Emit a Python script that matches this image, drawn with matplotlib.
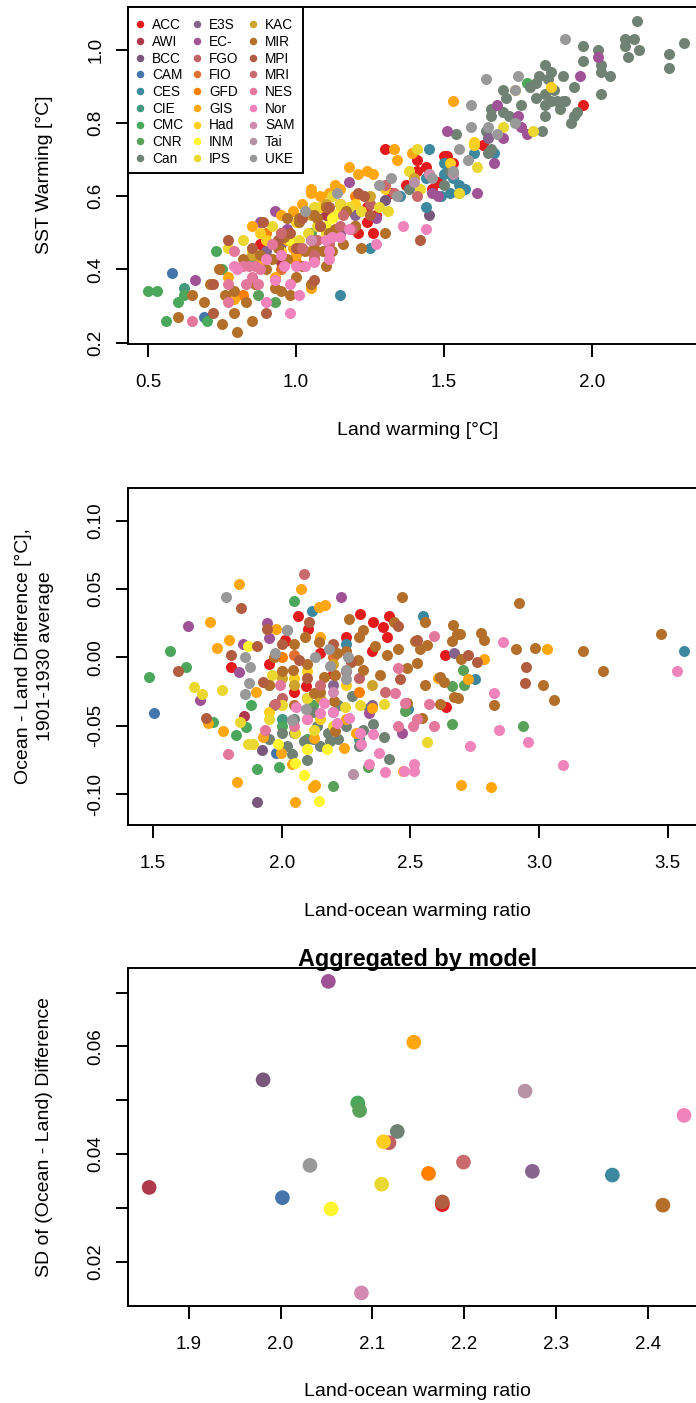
import numpy as np
import matplotlib.pyplot as plt
from matplotlib.colors import to_rgb
from matplotlib.lines import Line2D
from matplotlib.patches import Rectangle

plt.rcParams['font.family'] = ['Liberation Sans', 'DejaVu Sans']

# model codes (legend order)
models = ["ACC", "AWI", "BCC", "CAM", "CES", "CIE", "CMC", "CNR", "Can",
          "E3S", "EC-", "FGO", "FIO", "GFD", "GIS", "Had", "INM", "IPS",
          "KAC", "MIR", "MPI", "MRI", "NES", "Nor", "SAM", "Tai", "UKE"]

# panel 1: (land warming, SST warming) per model
warming = {
    "ACC": [(1.97, 0.85), (1.63, 0.74), (1.51, 0.71), (1.46, 0.62), (1.30, 0.73), (1.41, 0.70), (1.41, 0.67),
            (1.44, 0.68), (1.48, 0.64), (1.37, 0.63), (1.24, 0.57), (1.24, 0.53), (1.27, 0.55), (1.26, 0.50),
            (1.21, 0.50), (1.50, 0.71), (1.53, 0.69), (1.32, 0.61), (0.88, 0.47), (1.05, 0.48), (1.15, 0.58)],
    "AWI": [(1.10, 0.55), (0.95, 0.42), (1.20, 0.52)],
    "BCC": [(1.30, 0.59), (0.95, 0.47), (1.45, 0.55), (1.15, 0.50)],
    "CAM": [(0.58, 0.39), (0.69, 0.27)],
    "CES": [(1.45, 0.73), (1.51, 0.67), (1.53, 0.65), (1.57, 0.62), (1.60, 0.72), (1.67, 0.72), (1.52, 0.61),
            (1.50, 0.69), (1.44, 0.65), (1.50, 0.66), (1.49, 0.60), (1.55, 0.63), (1.44, 0.57), (1.25, 0.46),
            (1.35, 0.60), (1.15, 0.33)],
    "CIE": [(0.85, 0.42), (0.62, 0.35), (1.00, 0.47)],
    "CMC": [(0.50, 0.34), (0.53, 0.34), (0.60, 0.31), (0.56, 0.26), (0.70, 0.26), (0.62, 0.33), (0.73, 0.45),
            (1.78, 0.91)],
    "CNR": [(0.93, 0.31), (0.87, 0.33), (0.86, 0.44), (0.75, 0.40), (1.05, 0.50)],
    "Can": [(2.15, 1.08), (1.97, 1.01), (2.02, 1.00), (2.11, 1.03), (2.14, 1.03), (2.11, 1.01), (2.16, 1.00),
            (2.31, 1.02), (2.26, 0.99), (2.26, 0.95), (2.12, 0.98), (1.97, 0.97), (1.84, 0.96), (2.03, 0.96),
            (2.03, 0.94), (2.06, 0.93), (1.86, 0.94), (1.90, 0.93), (1.94, 0.90), (1.85, 0.92), (1.81, 0.91),
            (1.70, 0.89), (1.71, 0.87), (1.81, 0.87), (1.84, 0.88), (1.87, 0.89), (1.86, 0.86), (1.88, 0.86),
            (1.91, 0.86), (1.89, 0.84), (1.84, 0.85), (1.76, 0.85), (1.66, 0.84), (1.66, 0.82), (1.70, 0.83),
            (1.72, 0.82), (1.94, 0.82), (1.93, 0.80), (1.84, 0.82), (1.83, 0.78), (2.03, 0.88), (1.54, 0.77),
            (1.66, 0.73), (1.95, 0.83), (1.90, 0.86), (1.79, 0.90), (1.82, 0.93), (1.65, 0.72), (1.52, 0.67),
            (1.64, 0.78), (1.45, 0.66), (1.38, 0.62), (1.50, 0.63)],
    "E3S": [(1.55, 0.61), (1.65, 0.76), (0.90, 0.45), (1.20, 0.55)],
    "EC-": [(2.02, 0.98), (1.96, 0.93), (1.68, 0.85), (1.75, 0.82), (1.78, 0.77), (1.76, 0.79), (1.51, 0.78),
            (1.67, 0.69), (1.70, 0.76), (1.48, 0.60), (1.18, 0.64), (1.46, 0.61), (1.27, 0.54), (1.61, 0.61),
            (0.93, 0.56), (0.66, 0.37), (0.88, 0.53), (0.97, 0.51)],
    "FGO": [(1.00, 0.45), (1.25, 0.58)],
    "FIO": [(0.95, 0.40), (1.10, 0.50)],
    "GFD": [(0.90, 0.50), (1.20, 0.60), (1.00, 0.42), (0.82, 0.33)],
    "GIS": [(1.53, 0.86), (1.33, 0.73), (1.18, 0.68), (1.21, 0.66), (1.24, 0.67), (1.26, 0.66), (1.05, 0.61),
            (1.11, 0.61), (1.39, 0.72), (0.99, 0.56), (0.97, 0.48), (0.99, 0.46), (1.05, 0.62), (1.13, 0.63),
            (1.05, 0.35), (0.79, 0.32), (0.77, 0.38), (0.88, 0.42), (1.00, 0.44), (0.93, 0.38), (1.34, 0.70),
            (0.85, 0.52), (1.08, 0.60), (1.15, 0.62), (1.02, 0.58), (0.95, 0.55)],
    "Had": [(1.86, 0.90), (1.60, 0.74), (1.74, 0.89), (1.52, 0.69), (1.60, 0.75), (1.30, 0.62), (1.15, 0.56),
            (1.00, 0.53), (0.90, 0.48), (1.20, 0.58), (0.95, 0.45), (1.08, 0.57), (0.88, 0.50)],
    "INM": [(1.13, 0.55), (1.12, 0.54), (1.10, 0.52), (0.98, 0.48), (0.85, 0.45)],
    "IPS": [(1.80, 0.78), (1.70, 0.79), (1.61, 0.68), (1.55, 0.61), (1.41, 0.73), (1.38, 0.67), (1.42, 0.62),
            (1.28, 0.57), (1.31, 0.56), (1.22, 0.56), (1.05, 0.56), (1.15, 0.58), (1.04, 0.50), (1.07, 0.52),
            (1.10, 0.50), (1.01, 0.48), (0.82, 0.48), (1.06, 0.57), (0.77, 0.46), (1.12, 0.60), (1.18, 0.57),
            (0.92, 0.52)],
    "KAC": [(1.05, 0.55), (1.25, 0.60), (0.95, 0.50), (1.40, 0.65), (0.85, 0.44), (1.10, 0.58)],
    "MIR": [(0.74, 0.40), (0.65, 0.33), (0.60, 0.27), (0.69, 0.31), (0.75, 0.25), (0.80, 0.23), (0.85, 0.26),
            (0.79, 0.28), (0.83, 0.31), (0.76, 0.33), (0.79, 0.34), (0.92, 0.43), (0.95, 0.34), (0.98, 0.33),
            (1.05, 0.36), (1.10, 0.41), (1.06, 0.43), (1.02, 0.41), (0.97, 0.43), (0.94, 0.46), (0.88, 0.44),
            (0.82, 0.43), (0.96, 0.49), (1.01, 0.53), (1.07, 0.54), (1.11, 0.50), (1.12, 0.45), (1.06, 0.55),
            (0.71, 0.36), (0.86, 0.36), (0.93, 0.35), (1.10, 0.57), (1.17, 0.56), (0.97, 0.54), (1.01, 0.54),
            (1.08, 0.52), (1.11, 0.48), (1.01, 0.46), (1.06, 0.46), (1.13, 0.51), (1.16, 0.47), (1.30, 0.50),
            (1.22, 0.46), (1.03, 0.45), (1.09, 0.45), (1.20, 0.52), (0.90, 0.40), (1.00, 0.38)],
    "MPI": [(0.89, 0.53), (0.77, 0.48), (0.72, 0.36), (0.72, 0.28), (0.94, 0.48), (1.02, 0.54), (1.08, 0.52),
            (1.11, 0.57), (1.06, 0.37), (0.90, 0.28), (1.00, 0.46), (1.21, 0.61), (1.23, 0.60), (1.42, 0.48),
            (0.98, 0.50), (1.25, 0.55), (0.85, 0.46)],
    "MRI": [(1.02, 0.46), (1.11, 0.47), (1.06, 0.44), (1.07, 0.48), (1.30, 0.63), (1.33, 0.61), (1.41, 0.60),
            (1.19, 0.51), (1.16, 0.55), (0.95, 0.50), (1.15, 0.52)],
    "NES": [(0.79, 0.45), (0.82, 0.41), (0.84, 0.41), (0.86, 0.41), (0.88, 0.40), (0.85, 0.38), (0.83, 0.36),
            (0.87, 0.36), (0.77, 0.36), (0.77, 0.31), (0.65, 0.26), (0.92, 0.47)],
    "Nor": [(0.90, 0.31), (0.93, 0.37), (0.98, 0.36), (1.01, 0.33), (0.98, 0.28), (0.96, 0.41), (1.00, 0.41),
            (1.03, 0.41), (1.06, 0.42), (1.10, 0.48), (1.11, 0.43), (0.79, 0.41), (0.80, 0.40), (1.12, 0.49),
            (1.15, 0.49), (1.18, 0.51), (1.11, 0.45), (1.36, 0.52), (1.44, 0.51), (1.27, 0.47), (0.90, 0.43),
            (0.95, 0.44)],
    "SAM": [(1.05, 0.48), (1.45, 0.66)],
    "Tai": [(1.53, 0.66), (1.40, 0.64)],
    "UKE": [(1.91, 1.03), (1.64, 0.92), (1.75, 0.93), (1.59, 0.85), (1.74, 0.89), (1.59, 0.79), (1.65, 0.79),
            (1.74, 0.80), (1.68, 0.77), (1.55, 0.73), (1.58, 0.70), (1.53, 0.67), (1.46, 0.65), (1.32, 0.65),
            (1.28, 0.63), (1.14, 0.61), (1.34, 0.60), (1.03, 0.56)],
}

# panel 2: (land-ocean warming ratio, ocean - land difference) per model
difference = {
    "ACC": [(1.805, -0.007), (2.013, 0.012), (2.062, 0.030), (2.101, 0.021), (2.014, 0.013), (2.305, 0.032),
            (2.355, 0.026), (2.393, 0.022), (2.416, 0.030), (2.409, 0.015), (2.094, -0.021), (2.636, 0.002),
            (2.640, -0.036), (1.950, -0.005), (2.150, 0.003), (2.200, -0.012), (2.050, -0.025), (2.250, 0.015),
            (2.350, 0.005)],
    "AWI": [(1.855, -0.043), (2.100, -0.030), (2.250, -0.010)],
    "BCC": [(1.903, -0.106), (1.922, -0.068)],
    "CAM": [(1.505, -0.041), (1.980, -0.070)],
    "CES": [(2.118, 0.034), (2.549, 0.030), (2.493, -0.038), (2.750, -0.016), (3.563, 0.005), (2.250, 0.010),
            (2.200, -0.040)],
    "CIE": [(2.000, -0.045), (2.300, -0.060)],
    "CMC": [(1.566, 0.005), (1.484, -0.014), (1.627, -0.007), (1.734, -0.047), (1.821, -0.057), (1.905, -0.082),
            (1.989, -0.080), (1.861, -0.051), (1.881, -0.035), (2.049, 0.041), (2.000, -0.050)],
    "CNR": [(2.199, -0.094), (2.662, -0.049), (2.480, -0.039), (2.334, -0.080), (2.704, -0.009), (2.663, -0.021),
            (2.707, -0.020), (2.937, -0.050), (1.950, -0.020), (2.100, -0.060), (2.120, -0.035)],
    "Can": [(2.040, -0.071), (2.416, -0.074), (2.396, -0.058), (2.357, -0.049), (2.318, -0.053), (2.085, -0.061),
            (2.189, -0.061), (2.273, -0.028), (2.137, -0.050), (2.338, -0.037), (2.000, -0.055), (2.050, -0.045),
            (2.120, -0.040), (2.180, -0.055), (2.250, -0.050), (1.970, -0.035), (2.020, -0.065), (2.150, -0.065),
            (2.220, -0.035), (2.300, -0.065), (2.100, -0.075), (1.950, -0.060), (2.050, -0.055), (2.220, -0.060),
            (2.120, -0.060)],
    "E3S": [(2.670, 0.003), (2.200, -0.020), (2.350, -0.035)],
    "EC-": [(1.637, 0.023), (1.682, -0.031), (1.835, -0.011), (1.951, 0.014), (1.945, 0.025), (2.229, 0.044),
            (2.467, -0.055), (2.338, -0.041), (1.850, 0.010)],
    "FGO": [(2.300, -0.015), (2.000, -0.030)],
    "FIO": [(2.050, 0.002), (2.200, 0.000)],
    "GFD": [(2.000, 0.000), (2.300, -0.025), (2.100, -0.045)],
    "GIS": [(1.835, 0.054), (1.721, 0.026), (1.747, 0.007), (1.795, 0.013), (1.712, -0.048), (1.773, -0.054),
            (1.827, -0.091), (1.926, -0.058), (1.980, 0.021), (1.996, -0.070), (2.052, -0.106), (2.076, 0.050),
            (2.147, 0.037), (2.167, 0.038), (2.128, -0.093), (2.122, -0.095), (2.241, -0.066), (2.290, -0.055),
            (2.351, -0.037), (2.040, -0.078), (2.606, -0.015), (2.470, -0.083), (2.124, -0.059), (3.033, 0.006),
            (2.785, -0.001), (2.726, -0.016), (2.698, -0.093), (2.813, -0.095), (2.000, -0.010), (2.150, 0.015),
            (2.250, -0.045), (1.900, -0.025)],
    "Had": [(2.100, -0.010), (2.250, -0.020), (1.950, -0.040), (2.050, -0.015), (2.150, -0.045)],
    "INM": [(1.870, 0.008), (2.147, -0.105), (2.098, -0.067), (2.176, -0.067), (2.053, -0.077), (2.088, -0.086),
            (1.984, -0.063)],
    "IPS": [(1.659, -0.022), (1.691, -0.027), (1.767, -0.024), (1.868, -0.063), (1.888, -0.063), (1.838, -0.047),
            (1.961, -0.013), (2.565, -0.062), (2.396, -0.034), (2.305, -0.035), (2.247, -0.036), (2.053, -0.055),
            (2.124, -0.053), (2.100, -0.030), (2.200, -0.050), (1.950, -0.045), (2.000, -0.035)],
    "KAC": [(2.000, -0.015), (2.200, -0.005), (2.350, -0.020), (2.150, -0.030), (2.050, -0.020)],
    "MIR": [(2.467, 0.044), (2.260, 0.028), (2.318, 0.020), (2.438, 0.026), (2.558, 0.026), (2.665, 0.024),
            (2.092, 0.015), (2.144, 0.011), (2.215, 0.003), (2.295, -0.002), (2.364, 0.008), (2.409, 0.002),
            (2.454, 0.006), (2.519, 0.012), (2.539, 0.006), (2.565, 0.009), (2.526, -0.004), (2.487, -0.008),
            (2.558, -0.020), (2.616, -0.014), (2.632, -0.018), (2.662, 0.012), (2.681, 0.017), (2.046, -0.009),
            (2.163, -0.014), (2.208, -0.013), (2.318, -0.009), (2.383, -0.013), (2.124, -0.026), (2.202, -0.032),
            (2.487, -0.033), (2.545, -0.044), (2.208, -0.054), (2.616, -0.034), (2.668, -0.029), (2.923, 0.040),
            (2.694, 0.017), (2.776, 0.018), (2.785, 0.013), (2.911, 0.006), (2.985, 0.007), (3.173, 0.005),
            (3.473, 0.017), (3.247, -0.010), (3.015, -0.020), (3.057, -0.031), (2.826, -0.035), (2.687, -0.030),
            (2.697, -0.001), (1.970, 0.000), (2.000, -0.010), (1.950, -0.020), (2.050, 0.010), (2.100, -0.005),
            (2.250, 0.005), (2.300, 0.015), (2.050, -0.035), (2.150, -0.025)],
    "MPI": [(1.844, 0.036), (1.596, -0.010), (1.708, -0.044), (1.803, 0.002), (1.903, 0.008), (1.945, 0.021),
            (1.929, -0.018), (2.105, 0.026), (2.454, 0.023), (2.270, -0.003), (2.066, -0.002), (2.526, 0.013),
            (2.461, -0.016), (2.950, -0.007), (2.944, -0.019), (2.726, 0.002), (2.759, -0.003), (2.000, 0.010),
            (2.200, 0.010), (2.100, -0.015)],
    "MRI": [(1.974, -0.034), (2.085, 0.061), (2.150, -0.020), (2.400, -0.025)],
    "NES": [(1.793, -0.071), (1.935, -0.053), (1.993, -0.020), (2.593, 0.016), (2.452, -0.008), (2.441, -0.026),
            (2.480, -0.033), (2.571, -0.034), (2.528, -0.045), (2.510, -0.050), (2.593, -0.050), (2.454, -0.050),
            (2.050, -0.050)],
    "Nor": [(2.305, -0.055), (2.309, -0.063), (2.357, -0.056), (2.379, -0.070), (2.338, -0.078), (2.400, -0.084),
            (2.476, -0.083), (2.513, -0.083), (2.516, -0.078), (2.215, -0.048), (2.163, -0.033), (2.057, -0.036),
            (2.260, -0.044), (2.150, -0.041), (2.862, 0.011), (3.536, -0.010), (2.826, -0.026), (2.844, -0.053),
            (2.733, -0.065), (2.957, -0.062), (3.094, -0.079), (2.200, -0.040), (2.100, -0.045)],
    "SAM": [(2.200, -0.025)],
    "Tai": [(2.277, -0.085)],
    "UKE": [(1.782, 0.044), (1.857, 0.000), (1.877, -0.007), (1.873, -0.019), (1.857, -0.027), (1.974, 0.003),
            (2.022, 0.020), (2.039, -0.046), (2.021, 0.020), (2.186, 0.006), (2.128, 0.000), (2.257, 0.000),
            (2.189, -0.006), (2.251, -0.009), (2.251, -0.016), (2.096, -0.038), (2.040, -0.046)],
}

# panel 3: aggregated by model
agg_models = ["AWI", "EC-", "GIS", "BCC", "CMC", "CNR", "Can", "FGO", "Had", "UKE", "CAM", "INM",
              "IPS", "GFD", "MRI", "E3S", "CES", "ACC", "MPI", "MIR", "Tai", "Nor", "SAM"]
agg_ratio = [1.857, 2.052, 2.145, 1.981, 2.084, 2.086, 2.127, 2.118, 2.112, 2.032, 2.002, 2.055,
             2.110, 2.161, 2.199, 2.274, 2.361, 2.176, 2.176, 2.416, 2.266, 2.439, 2.088]
agg_sd = [0.0338, 0.0721, 0.0608, 0.0538, 0.0495, 0.0481, 0.0442, 0.0421, 0.0423, 0.0379, 0.0319, 0.0298,
          0.0344, 0.0364, 0.0385, 0.0368, 0.0361, 0.0306, 0.0311, 0.0305, 0.0517, 0.0472, 0.0142]

# palette: Set1 stretched over the 27 models
set1 = ["#E41A1C", "#377EB8", "#4DAF4A", "#984EA3", "#FF7F00", "#FFFF33", "#A65628", "#F781BF", "#999999"]
rgb = np.array([to_rgb(c) for c in set1])
pos = np.linspace(0, len(set1) - 1, len(models))
palette = {m: tuple(np.interp(p, np.arange(len(set1)), rgb[:, k]) for k in range(3))
           for m, p in zip(models, pos)}

W, H = 696, 1403
fig = plt.figure(figsize=(W / 100, H / 100), dpi=100)


def box(left, top, right, bottom):
    return [left / W, 1 - bottom / H, (right - left) / W, (bottom - top) / H]


def fx(x):
    return x / W


def fy(y):
    return 1 - y / H


def r_axes(ax, xticks, yticks, ylabels=None):
    for s in ax.spines.values():
        s.set_linewidth(1.4)
    ax.set_xticks(xticks)
    ax.set_xticklabels([f"{t:.1f}" for t in xticks])
    ax.set_yticks(yticks)
    ax.set_yticklabels(ylabels)
    ax.tick_params(direction='out', length=9, width=1.4, labelsize=13.5, colors='black')
    ax.tick_params(axis='x', pad=12.5)
    ax.tick_params(axis='y', pad=8, labelrotation=90)
    plt.setp(ax.get_yticklabels(), va='center')


def ftext(x, y, s, **kw):
    fig.text(fx(x), fy(y), s, ha='center', va='center', fontsize=14, **kw)


# panel 1
ax1 = fig.add_axes(box(128, 7, 707, 343.7))
for m in models:
    pts = np.array(warming[m])
    ax1.scatter(pts[:, 0], pts[:, 1], s=63, color=palette[m], linewidths=0, zorder=3)
ax1.set_xlim(0.4325, 2.388)
ax1.set_ylim(0.197, 1.118)
r_axes(ax1, [0.5, 1.0, 1.5, 2.0], [0.2, 0.4, 0.6, 0.8, 1.0], ["0.2", "0.4", "0.6", "0.8", "1.0"])
ftext(417.5, 430, "Land warming [°C]")
ftext(45, 175, "SST Warming [°C]", rotation=90)

# legend drawn like R's legend("topleft", ncol = 3)
fig.add_artist(Rectangle((fx(128), fy(173)), fx(303) - fx(128), fy(7) - fy(173),
                         transform=fig.transFigure, facecolor='white', edgecolor='black',
                         linewidth=1.4, zorder=5))
col_x, row_y0, row_dy = [140, 196.7, 252.7], 24.3, 16.7
for i, m in enumerate(models):
    cx = col_x[i // 9]
    ry = row_y0 + (i % 9) * row_dy
    fig.add_artist(Line2D([fx(cx)], [fy(ry)], marker='o', ls='', color=palette[m], markersize=5.4,
                          markeredgewidth=0, transform=fig.transFigure, zorder=6))
    fig.text(fx(cx + 12.3), fy(ry + 4.9), m, ha='left', va='baseline', fontsize=9.8, zorder=6)

# panel 2
ax2 = fig.add_axes(box(128, 488.3, 707, 825))
for m in models:
    pts = np.array(difference[m])
    ax2.scatter(pts[:, 0], pts[:, 1], s=63, color=palette[m], linewidths=0, zorder=3)
ax2.set_xlim(1.403, 3.653)
ax2.set_ylim(-0.1226, 0.1237)
r_axes(ax2, [1.5, 2.0, 2.5, 3.0, 3.5], [-0.10, -0.05, 0.0, 0.05, 0.10],
       ["-0.10", "-0.05", "0.00", "0.05", "0.10"])
ftext(417.5, 911, "Land-ocean warming ratio")
ftext(34.5, 656, "Ocean - Land Difference [°C],\n1901-1930 average", rotation=90,
      multialignment='center', linespacing=1.45)

# panel 3
ax3 = fig.add_axes(box(128, 968.3, 707, 1305.7))
ax3.scatter(agg_ratio, agg_sd, s=112, color=[palette[m] for m in agg_models], linewidths=0, zorder=3)
ax3.set_xlim(1.834, 2.464)
ax3.set_ylim(0.01182, 0.07453)
r_axes(ax3, [1.9, 2.0, 2.1, 2.2, 2.3, 2.4], [0.02, 0.03, 0.04, 0.05, 0.06, 0.07],
       ["0.02", "", "0.04", "", "0.06", ""])
fig.text(fx(417.5), fy(966), "Aggregated by model", ha='center', va='baseline',
         fontsize=16.8, fontweight='bold')
ftext(417.5, 1392, "Land-ocean warming ratio")
ftext(45, 1137, "SD of (Ocean - Land) Difference", rotation=90)

fig.savefig("out.png", dpi=100)
